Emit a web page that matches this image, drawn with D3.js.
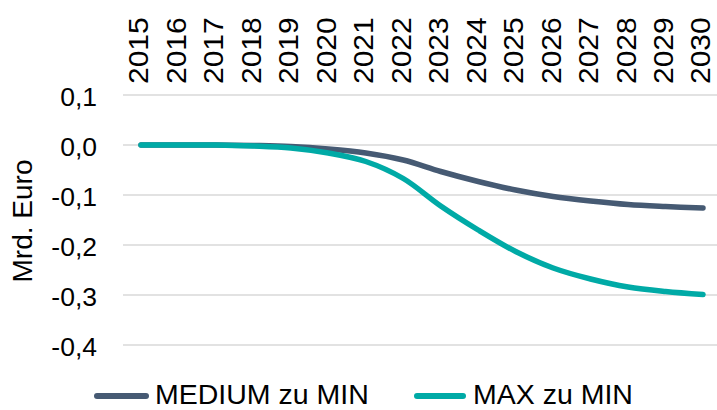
<!DOCTYPE html>
<html><head><meta charset="utf-8">
<script src="https://cdn.jsdelivr.net/npm/d3@7"></script>
<style>body{margin:0;background:#fff}svg{display:block}text{font-family:"Liberation Sans",Arial,sans-serif;fill:#000}</style>
</head><body><svg id="c" width="717" height="410"></svg>
<script>
const years = [2015,2016,2017,2018,2019,2020,2021,2022,2023,2024,2025,2026,2027,2028,2029,2030];
const medium = [0,0,0,-0.001,-0.003,-0.008,-0.016,-0.03,-0.053,-0.073,-0.09,-0.103,-0.112,-0.119,-0.123,-0.126];
const maxv = [0,0,0,-0.002,-0.006,-0.016,-0.033,-0.067,-0.122,-0.17,-0.213,-0.246,-0.268,-0.284,-0.293,-0.299];
const yTicks = [0.1,0,-0.1,-0.2,-0.3,-0.4];
const seriesNames = ["MEDIUM zu MIN","MAX zu MIN"];
const colors = ["#465a73","#00aaa6"];

const svg = d3.select("#c");
const x = d3.scalePoint().domain(years).range([141,703]);
const y = d3.scaleLinear().domain([-0.4,0.1]).range([345,95]);

// grid
svg.append("g").selectAll("line").data(yTicks).join("line")
  .attr("x1",123).attr("x2",717).attr("y1",d=>y(d)).attr("y2",d=>y(d))
  .attr("stroke","#d9d9d9").attr("stroke-width",1.5);

const fmt = d => d3.format(".1f")(d).replace(".",",").replace("−","-");
svg.append("g").selectAll("text").data(yTicks).join("text")
  .attr("x",97).attr("y",d=>y(d)).attr("dy","0.42em").attr("text-anchor","end")
  .style("font-size","26.5px").text(fmt);

svg.append("g").selectAll("text").data(years).join("text")
  .attr("transform",d=>`translate(${x(d)-2},84) rotate(-90) scale(1,0.9)`)
  .attr("dy","0.35em").attr("text-anchor","start")
  .style("font-size","30px").text(d=>d);

svg.append("text").attr("transform","translate(22,221) rotate(-90)")
  .attr("text-anchor","middle").attr("dy","0.35em").style("font-size","28px").text("Mrd. Euro");

const line = d3.line().x((d,i)=>x(years[i])).y(d=>y(d)).curve(d3.curveCatmullRom.alpha(0.5));
[medium,maxv].forEach((s,i)=>{
  svg.append("path").attr("d",line(s)).attr("fill","none").attr("stroke",colors[i])
    .attr("stroke-width",5.5).attr("stroke-linecap","round").attr("stroke-linejoin","round");
});

// legend
const leg = [{x1:97,x2:146,tx:155},{x1:417,x2:463,tx:473}];
seriesNames.forEach((n,i)=>{
  svg.append("line").attr("x1",leg[i].x1).attr("x2",leg[i].x2).attr("y1",396).attr("y2",396)
    .attr("stroke",colors[i]).attr("stroke-width",6).attr("stroke-linecap","round");
  svg.append("text").attr("x",leg[i].tx).attr("y",404).style("font-size","28.5px").text(n);
});
</script></body></html>
